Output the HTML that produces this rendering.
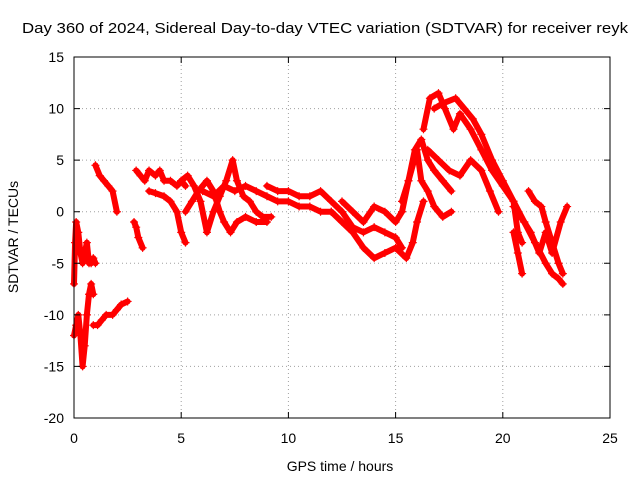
<!DOCTYPE html>
<html><head><meta charset="utf-8"><style>
body{margin:0;background:#fff;font-family:"Liberation Sans",sans-serif}
svg text{font-family:"Liberation Sans",sans-serif;font-size:14px;fill:#000}
</style></head><body>
<svg id="chart" width="640" height="480" xmlns="http://www.w3.org/2000/svg">
<rect width="640" height="480" fill="#fff"/>
<g id="grid"></g>
<g id="series"></g>
<rect x="74" y="57" width="536" height="361" fill="none" stroke="#000" stroke-width="1"/>
<g id="ticks"></g>
<text x="22" y="33" style="font-size:15px" textLength="606" lengthAdjust="spacingAndGlyphs">Day 360 of 2024, Sidereal Day-to-day VTEC variation (SDTVAR) for receiver reyk</text>
<text x="340" y="471" text-anchor="middle">GPS time / hours</text>
<text transform="translate(18,237) rotate(-90)" text-anchor="middle">SDTVAR / TECUs</text>
</svg>
<script>
const xTicks=[0,5,10,15,20,25];
const yTicks=[-20,-15,-10,-5,0,5,10,15];
const tracks=[
[[0,-7],[0.05,-3],[0.1,-1],[0.2,-2],[0.3,-4],[0.4,-5],[0.5,-4],[0.6,-3],[0.7,-5],[0.8,-5],[0.9,-4.5],[1.0,-5]],
[[0,-12],[0.1,-11],[0.2,-10],[0.3,-12],[0.4,-15],[0.5,-13],[0.6,-10],[0.7,-8],[0.8,-7],[0.9,-8]],
[[0.9,-11],[1.1,-11],[1.3,-10.5],[1.5,-10],[1.8,-10],[2.0,-9.5],[2.2,-9],[2.5,-8.7]],
[[1.0,4.5],[1.2,3.5],[1.4,3],[1.6,2.5],[1.8,2],[2.0,0]],
[[2.8,-1],[2.9,-1.5],[3.0,-2.5],[3.2,-3.5]],
[[2.9,4],[3.1,3.5],[3.3,3],[3.5,4],[3.8,3.5],[4.0,4],[4.2,3],[4.5,3],[4.8,2.5],[5.0,3],[5.2,2.5]],
[[3.5,2],[3.8,1.8],[4.2,1.5],[4.5,1],[4.8,0],[5.0,-2],[5.2,-3]],
[[5.0,3],[5.3,3.5],[5.6,2.5],[5.9,1],[6.2,-2],[6.5,0],[6.8,1.5],[7.1,3],[7.4,5],[7.6,3],[7.9,1.5],[8.2,1],[8.5,0],[8.8,-0.5],[9.2,-0.5]],
[[5.2,0],[5.5,1],[5.8,2],[6.2,3],[6.5,2],[6.8,0],[7.0,-1],[7.3,-2],[7.6,-1],[8.0,-0.5],[8.5,-1],[9.0,-1]],
[[6.0,2],[6.5,1.5],[7.0,2.5],[7.5,2],[8.0,2.5],[8.5,2],[9.0,1.5],[9.5,1],[10,1],[10.5,0.5],[11,0.5],[11.5,0],[12,0]],
[[9,2.5],[9.5,2],[10,2],[10.5,1.5],[11,1.5],[11.5,2],[12,1],[12.5,0],[13,-1.5],[13.5,-2],[14,-1.5],[14.5,-2],[15,-2.5],[15.3,-3.5]],
[[12,0],[12.5,-1],[13,-2],[13.5,-3.5],[14,-4.5],[14.5,-4],[15,-3.5],[15.5,-4.5],[15.8,-3],[16,-1],[16.3,1]],
[[12.5,1],[13,0],[13.5,-1],[14,0.5],[14.5,0],[15,-1],[15.3,0],[15.6,3],[16,6],[16.2,3],[16.5,2],[16.8,0.5],[17.2,-0.5],[17.6,0]],
[[15.3,1],[15.6,3],[15.9,6],[16.2,7],[16.5,5],[16.8,4],[17.2,3],[17.6,2]],
[[16.3,8],[16.6,11],[17.0,11.5],[17.3,10],[17.7,8],[18.0,9.5],[18.5,8],[19,6],[19.5,4],[20,2.5],[20.5,1],[21,-1],[21.5,-3],[22,-5],[22.3,-6],[22.6,-6.5],[22.8,-7]],
[[16.8,10],[17.2,10.5],[17.8,11],[18.2,10],[18.6,9],[19,7.5],[19.5,5],[20,3],[20.5,1],[20.7,-2],[20.9,-3]],
[[16.5,6],[17,5],[17.5,4],[18,3.5],[18.5,5],[19,4],[19.4,2],[19.8,0]],
[[20.5,0.5],[21,-1],[21.3,-2],[21.7,-4],[22,-2],[22.3,-4],[22.7,-1],[23,0.5]],
[[21.2,2],[21.5,1],[21.8,0.5],[22,-1],[22.3,-3],[22.6,-5],[22.8,-6]],
[[20.5,-2],[20.7,-4],[20.9,-6]]
];
const NS="http://www.w3.org/2000/svg";
const X=v=>74+v*(536/25);
const Y=v=>418-(v+20)*(361/35);
const grid=document.getElementById('grid'),ticks=document.getElementById('ticks'),ser=document.getElementById('series');
function mk(tag,parent,attrs){const e=document.createElementNS(NS,tag);for(const k in attrs)e.setAttribute(k,attrs[k]);parent.appendChild(e);return e;}
xTicks.forEach(t=>{
 const x=X(t);
 if(t>0&&t<25){const g=mk('line',grid,{x1:x,x2:x,y1:57,y2:418,stroke:'#a0a0a0','stroke-dasharray':'1,3'});
 
 }
 const tk=mk('path',ticks,{d:`M${x},418v-6M${x},57v6`,stroke:'#000'});
 
 
 const l=mk('text',ticks,{x:x,y:443,'text-anchor':'middle'});l.textContent=t;
 
 
});
yTicks.forEach(t=>{
 const y=Y(t);
 if(t>-20&&t<15){const g=mk('line',grid,{x1:74,x2:610,y1:y,y2:y,stroke:'#a0a0a0','stroke-dasharray':'1,3'});
 
 }
 const tk=mk('path',ticks,{d:`M74,${y}h6M610,${y}h-6`,stroke:'#000'});
 
 
 const l=mk('text',ticks,{x:64,y:y+5,'text-anchor':'end'});l.textContent=t;
 
 
});
tracks.forEach((tr,i)=>{
 const p=mk('polyline',ser,{points:tr.map(d=>X(d[0])+','+Y(d[1])).join(' '),fill:'none',stroke:'#f00','stroke-width':6,'stroke-linejoin':'round','stroke-linecap':'round'});
 
 
 tr.forEach(d=>{
  const m=mk('path',ser,{d:`M${X(d[0])-4},${Y(d[1])}h8M${X(d[0])},${Y(d[1])-4}v8`,stroke:'#f00','stroke-width':1.2});
  
  
 });
});
</script>
</body></html>
